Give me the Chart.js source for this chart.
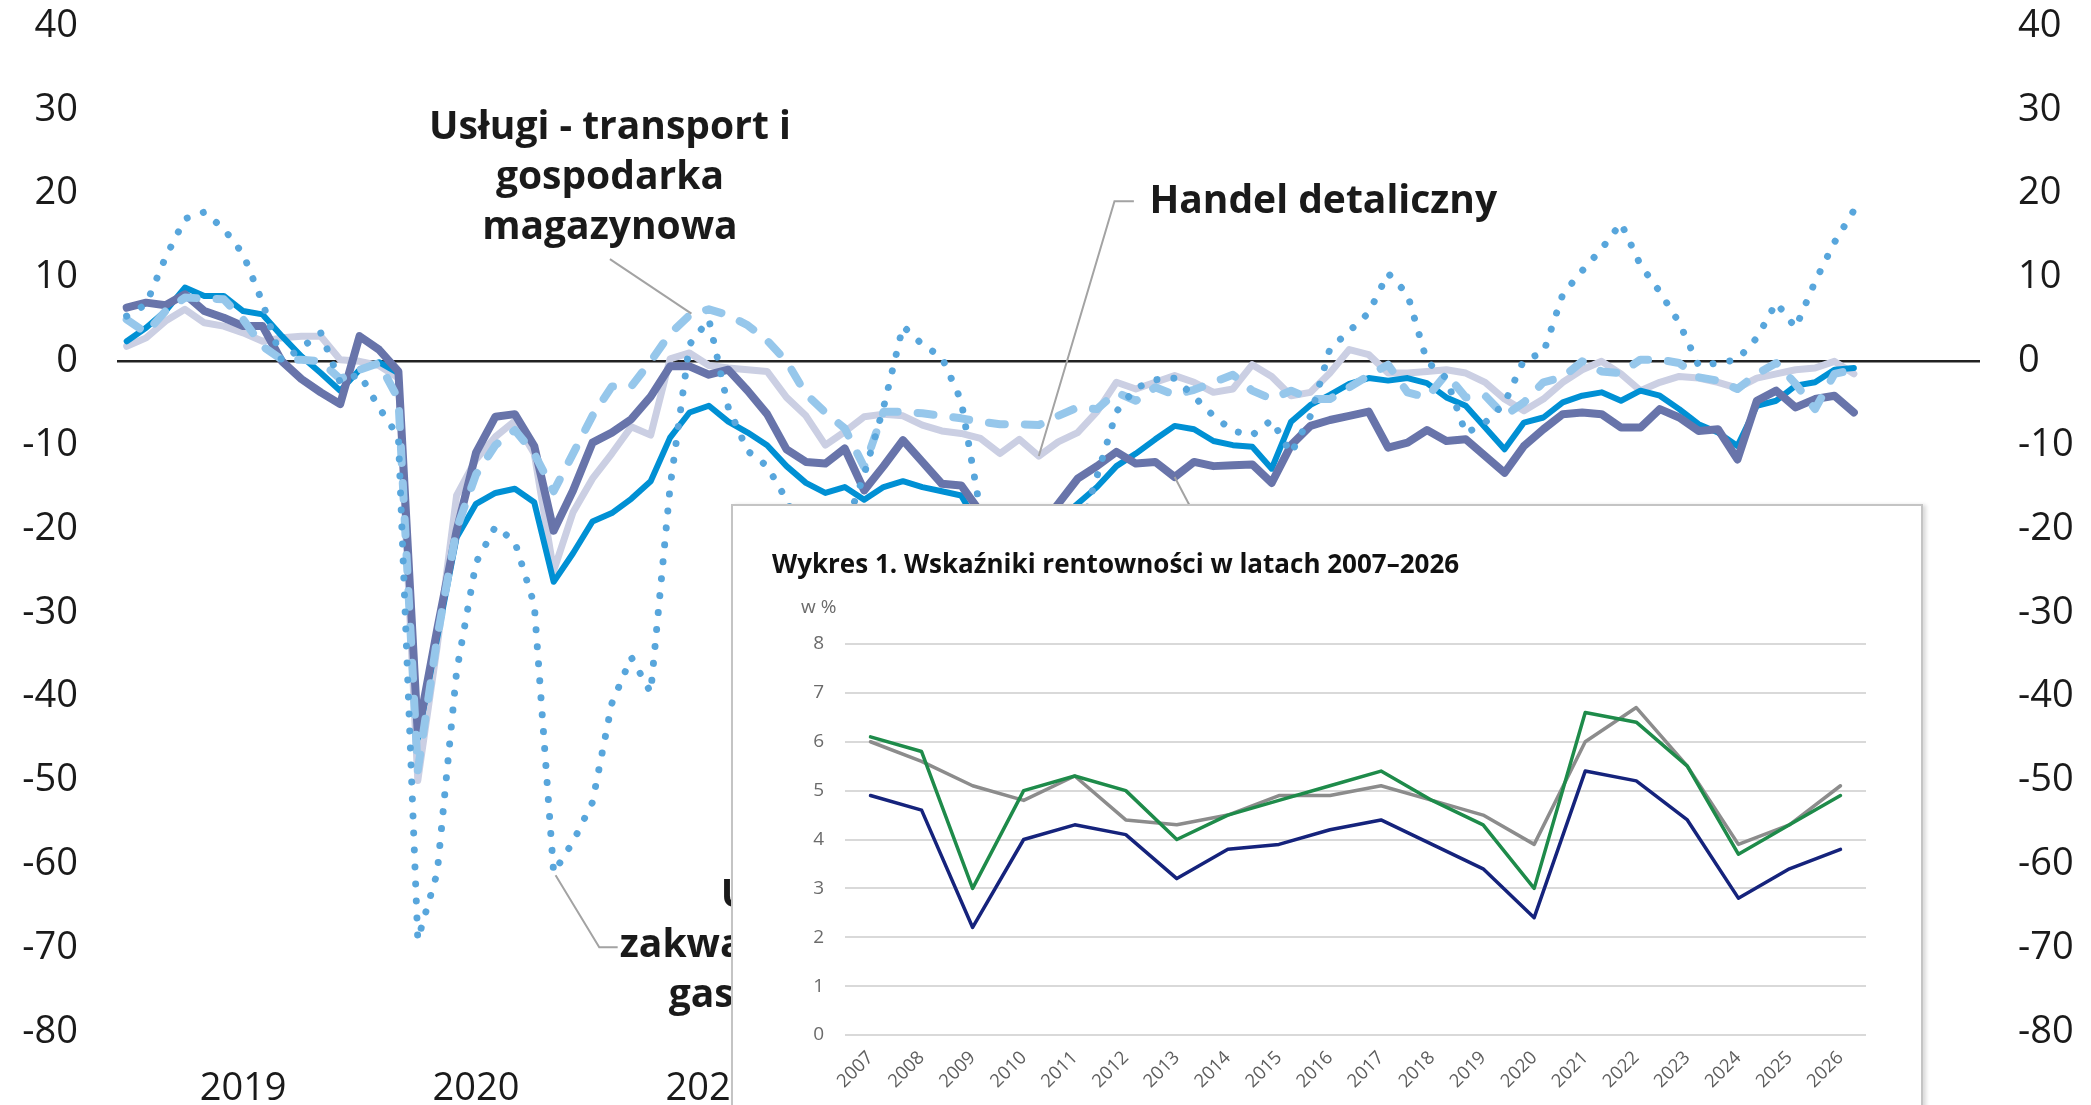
<!DOCTYPE html>
<html lang="pl">
<head>
<meta charset="utf-8">
<title>Koniunktura i rentowność</title>
<script src="https://cdn.jsdelivr.net/npm/chart.js@4.4.1/dist/chart.umd.min.js"></script>
<style>
  html, body { margin: 0; padding: 0; background: #fff; overflow: hidden; }
  #wrap { position: relative; width: 2091px; height: 1105px; }
  #mainChart { position: absolute; left: 0; top: 0; }
  #inset {
    position: absolute; left: 731px; top: 504px; width: 1192px; height: 700px;
    box-sizing: border-box; background: #fff; border: 2px solid #c4c4c4;
    box-shadow: 3px 1px 4px rgba(0, 0, 0, 0.15);
  }
  #insetChart { position: absolute; left: 0; top: 0; }
</style>
</head>
<body>
<div id="wrap">
  <canvas id="mainChart" width="2091" height="1105"></canvas>
  <div id="inset"><canvas id="insetChart" width="1188" height="599"></canvas></div>
</div>
<script>
// --- background chart: monthly balances, 2019 onwards ---
const years = ['2019', '2020', '2021', '2022', '2023', '2024', '2025', '2026'];
const months = [];
years.forEach(y => {
  for (let m = 1; m <= 12; m++) months.push(y + '-' + String(m).padStart(2, '0'));
});

// dark slate, thick
const seriaCiemna = [6.4, 7.0, 6.7, 8.0, 6.0, 5.2, 4.2, 4.2, 0.0, -2.1,
  -3.7, -5.1, 3.0, 1.4, -1.2, -44.4, -32, -20.2, -10.9, -6.6,
  -6.3, -10.1, -20.2, -15.4, -9.7, -8.5, -6.9, -4.2, -0.6, -0.6,
  -1.6, -1.0, -3.5, -6.3, -10.5, -12.0, -12.2, -10.4, -15.4, -12.5,
  -9.4, -12.0, -14.6, -14.8, -18, -20, -22, -20, -17, -14,
  -12.5, -10.8, -12.2, -12.0, -13.8, -12.0, -12.5, -12.4, -12.3, -14.5,
  -10.0, -7.7, -7.0, -6.5, -6.0, -10.3, -9.7, -8.2, -9.5, -9.3,
  -11.3, -13.3, -10.1, -8.1, -6.3, -6.1, -6.3, -7.9, -7.9, -5.7,
  -6.7, -8.3, -8.1, -11.7, -4.7, -3.5, -5.5, -4.5, -4.1, -6.1];

// bright blue
const seriaNiebieska = [2.4, 4.0, 6.0, 8.8, 7.8, 7.8, 6.0, 5.6, 3.0, 0.6,
  -1.4, -3.5, -1.0, -0.1, -1.4, -45, -33, -21, -17, -15.7,
  -15.2, -16.8, -26.3, -22.9, -19.1, -18.1, -16.4, -14.3, -9.1, -6.1,
  -5.3, -7.2, -8.5, -10, -12.5, -14.5, -15.7, -15, -16.5, -15,
  -14.3, -15, -15.5, -16, -20, -21, -22, -21, -19, -17,
  -15, -12.5, -11, -9.3, -7.7, -8.1, -9.5, -10, -10.2, -12.8,
  -7.2, -5.2, -4, -2.7, -2.0, -2.3, -2.0, -2.6, -4.3, -5.3,
  -7.9, -10.5, -7.3, -6.7, -4.9, -4.1, -3.7, -4.7, -3.5, -4.1,
  -5.7, -7.5, -8.5, -10.1, -5.3, -4.7, -2.9, -2.5, -1.0, -0.8];

// Handel detaliczny (lavender)
const handelDetaliczny = [1.8, 2.8, 4.8, 6.2, 4.6, 4.2, 3.4, 2.4, 2.8, 3.0,
  3.0, 0.2, 0.0, -0.5, -2.0, -50, -34, -16, -11.7, -9,
  -7.1, -11.0, -25.0, -18, -14, -11, -7.8, -8.8, 0.3, 1.0,
  -0.5, -0.8, -1.0, -1.2, -4.3, -6.5, -10.0, -8.4, -6.6, -6.3,
  -6.5, -7.6, -8.3, -8.6, -9.2, -11.0, -9.3, -11.3, -9.6, -8.5,
  -6, -2.5, -3.3, -2.5, -1.7, -2.5, -3.7, -3.3, -0.4, -1.8,
  -4.1, -3.7, -1.4, 1.4, 0.8, -1.4, -1.4, -1.2, -1.0, -1.4,
  -2.5, -4.5, -5.9, -4.5, -2.5, -1.0, 0.0, -1.5, -3.5, -2.5,
  -1.8, -2.0, -2.5, -3.2, -2.0, -1.5, -1.0, -0.8, 0.0, -1.5];

// Usługi - transport i gospodarka magazynowa (dashed)
const transport = [5.0, 3.4, 6.0, 7.6, 7.5, 7.4, 5.0, 1.8, 0.2, 0.2,
  0.0, -2.1, -1.0, -0.2, -4.5, -48.8, -33, -20, -13.5, -10,
  -8.2, -11, -15.5, -11, -6.5, -3.0, -3.0, 0.0, 3.3, 5.5,
  6.2, 5.5, 4.3, 2.5, 0.0, -3.9, -6.1, -8.0, -12.6, -6.0,
  -6.0, -6.2, -6.5, -6.8, -7.2, -7.5, -7.5, -7.6, -6.5, -5.5,
  -5.7, -3.7, -4.7, -3.1, -4.0, -3.4, -2.5, -1.6, -3.5, -4.5,
  -3.5, -4.5, -4.5, -3.1, -1.7, -0.4, -3.7, -4.3, -1.5, -4.3,
  -4.1, -6.5, -4.9, -2.5, -1.9, 0.0, -1.2, -1.4, 0.2, 0.2,
  -0.2, -1.9, -2.3, -3.3, -1.5, -0.2, -2.7, -5.7, -1.5, -1.0];

// Usługi - zakwaterowanie i gastronomia (dotted)
const gastronomia = [5.4, 6.8, 12.4, 17.0, 17.8, 15.8, 12.8, 7.0, 0.0, 1.6,
  3.4, -2.5, -1.5, -5.5, -9.0, -69, -61, -37, -24, -19.7,
  -21.5, -29, -61, -57.3, -52.6, -40.8, -35.3, -39.5, -15, 2,
  5, -5.5, -10.7, -12.5, -16.5, -22, -24, -20, -13.5, -5.5,
  4.2, 2.0, 0.5, -4.7, -18, -24, -26, -25, -24, -21,
  -13.7, -6, -3.2, -2.2, -2.0, -4.2, -6.5, -8.3, -8.8, -7.0,
  -11, -6.5, 1.5, 3.6, 5.8, 10.5, 8.0, 0.0, -2.0, -8.6,
  -7.3, -5.0, 0.2, 1.0, 8.0, 10.8, 13.4, 16.5, 11.5, 8.3,
  4.6, -0.5, -0.2, 0.2, 2.8, 7.0, 4.0, 9.5, 14.2, 18.0];

// callouts: [month index, value]
const labelNotes = [
  { lines: ['Usługi - transport i', 'gospodarka', 'magazynowa'], at: [24.9, 27.8], align: 'center' },
  { lines: ['Handel detaliczny'], at: [52.7, 19.0], align: 'left' },
  { lines: ['Usługi -', 'zakwaterowanie i', 'gastronomia'], at: [34.3, -63.8], align: 'center' },
];
const leaderLines = [
  [[24.9, 12.2], [29.1, 5.7]],
  [[51.9, 19.1], [50.9, 19.1], [47, -11.3]],
  [[22.1, -61.3], [24.35, -69.9], [25.3, -69.9]],
  [[54, -13.8], [57, -27]],
];

// --- inset: Wykres 1 ---
const insetTitle = 'Wykres 1. Wskaźniki rentowności w latach 2007–2026';
const insetUnit = 'w %';
const insetYears = ['2007', '2008', '2009', '2010', '2011', '2012', '2013', '2014', '2015', '2016',
  '2017', '2018', '2019', '2020', '2021', '2022', '2023', '2024', '2025', '2026'];
const rentSzara = [6.0, 5.6, 5.1, 4.8, 5.3, 4.4, 4.3, 4.5, 4.9, 4.9, 5.1, 4.8, 4.5, 3.9, 6.0, 6.7, 5.5, 3.9, 4.3, 5.1];
const rentZielona = [6.1, 5.8, 3.0, 5.0, 5.3, 5.0, 4.0, 4.5, 4.8, 5.1, 5.4, 4.8, 4.3, 3.0, 6.6, 6.4, 5.5, 3.7, 4.3, 4.9];
const rentGranatowa = [4.9, 4.6, 2.2, 4.0, 4.3, 4.1, 3.2, 3.8, 3.9, 4.2, 4.4, 3.9, 3.4, 2.4, 5.4, 5.2, 4.4, 2.8, 3.4, 3.8];

const FONT = '"Open Sans", "Noto Sans", sans-serif';
const CLEAR = 'rgba(0,0,0,0)';

const notesPlugin = {
  id: 'notes',
  afterDatasetsDraw(chart) {
    const { ctx, scales: { x, y } } = chart;
    const px = p => [x.getPixelForValue(p[0]), y.getPixelForValue(p[1])];
    ctx.save();
    ctx.strokeStyle = '#a3a3a3';
    ctx.lineWidth = 2;
    leaderLines.forEach(path => {
      ctx.beginPath();
      path.forEach((p, k) => {
        const [a, b] = px(p);
        if (k) ctx.lineTo(a, b); else ctx.moveTo(a, b);
      });
      ctx.stroke();
    });
    ctx.fillStyle = '#1a1a1a';
    ctx.font = 'bold 39px ' + FONT;
    ctx.textBaseline = 'middle';
    labelNotes.forEach(n => {
      ctx.textAlign = n.align;
      const [a, b] = px(n.at);
      n.lines.forEach((t, k) => ctx.fillText(t, a, b + k * 50));
    });
    ctx.restore();
  }
};

const line = (data, color, width, extra) => Object.assign({
  data,
  borderColor: color,
  borderWidth: width,
  pointRadius: 0,
  tension: 0,
  fill: false,
  borderJoinStyle: 'round',
  borderCapStyle: 'round',
}, extra);

const tickFont = { family: FONT, size: 38 };

new Chart(document.getElementById('mainChart'), {
  type: 'line',
  data: {
    labels: months,
    datasets: [
      line(handelDetaliczny, '#cbcfe3', 7, { order: 5 }),
      line(seriaNiebieska, '#0090d4', 6, { order: 4 }),
      line(seriaCiemna, '#6874aa', 8, { order: 3 }),
      line(transport, '#96c7eb', 8, { order: 2, borderDash: [16, 20] }),
      line(gastronomia, '#58a6dc', 7, { order: 1, borderDash: [0.01, 17] }),
    ],
  },
  options: {
    responsive: false,
    devicePixelRatio: 1,
    animation: false,
    layout: { padding: { top: 26, bottom: 0, left: 0, right: 0 } },
    plugins: { legend: { display: false }, tooltip: { enabled: false } },
    scales: {
      x: {
        type: 'category',
        offset: true,
        grid: { display: false, drawTicks: false },
        border: { display: false },
        ticks: {
          autoSkip: false,
          maxRotation: 0,
          padding: 34,
          color: '#1a1a1a',
          font: tickFont,
          callback: (val, i) => (i % 12 === 6 ? years[Math.floor(i / 12)] : ''),
        },
        afterFit: s => { s.height = 73; },
      },
      y: {
        position: 'left',
        min: -80,
        max: 40,
        ticks: { stepSize: 10, padding: 3, color: '#1a1a1a', font: tickFont },
        grid: {
          drawTicks: true,
          tickLength: 36,
          tickColor: CLEAR,
          color: c => (c.tick && c.tick.value === 0 ? '#222' : CLEAR),
          lineWidth: c => (c.tick && c.tick.value === 0 ? 2.5 : 0),
        },
        border: { display: false },
        afterFit: s => { s.width = 117; },
      },
      y2: {
        position: 'right',
        min: -80,
        max: 40,
        ticks: { stepSize: 10, padding: 3, color: '#1a1a1a', font: tickFont },
        grid: {
          drawOnChartArea: false,
          drawTicks: true,
          tickLength: 35,
          tickColor: CLEAR,
          color: CLEAR,
        },
        border: { display: false },
        afterFit: s => { s.width = 111; },
      },
    },
  },
  plugins: [notesPlugin],
});

const insetTextPlugin = {
  id: 'insetText',
  afterDraw(chart) {
    const { ctx, chartArea } = chart;
    ctx.save();
    ctx.textBaseline = 'middle';
    ctx.textAlign = 'left';
    ctx.fillStyle = '#111';
    ctx.font = 'bold 26px ' + FONT;
    ctx.fillText(insetTitle, chartArea.left - 73, chartArea.top - 78);
    ctx.fillStyle = '#6b6b6b';
    ctx.font = '19px ' + FONT;
    ctx.fillText(insetUnit, chartArea.left - 44, chartArea.top - 36);
    ctx.restore();
  }
};

new Chart(document.getElementById('insetChart'), {
  type: 'line',
  data: {
    labels: insetYears,
    datasets: [
      line(rentSzara, '#8c8c8c', 3.5, { order: 3 }),
      line(rentZielona, '#1e8b4a', 3.5, { order: 2 }),
      line(rentGranatowa, '#15237c', 3.5, { order: 1 }),
    ],
  },
  options: {
    responsive: false,
    devicePixelRatio: 1,
    animation: false,
    layout: { padding: { top: 138, left: 40, right: 55, bottom: 0 } },
    plugins: { legend: { display: false }, tooltip: { enabled: false } },
    scales: {
      x: {
        type: 'category',
        offset: true,
        grid: { display: false, drawTicks: false },
        border: { display: false },
        ticks: {
          autoSkip: false,
          minRotation: 45,
          maxRotation: 45,
          padding: 12,
          color: '#5e5e5e',
          font: { family: FONT, size: 18.5 },
        },
        afterFit: s => { s.height = 70; },
      },
      y: {
        min: 0,
        max: 8,
        ticks: { stepSize: 1, padding: 21, color: '#6b6b6b', font: { family: FONT, size: 19 } },
        grid: { color: '#d9d9d9', lineWidth: 2, drawTicks: false },
        border: { display: false },
        afterFit: s => { s.width = 72; },
      },
    },
  },
  plugins: [insetTextPlugin],
});
</script>
</body>
</html>
